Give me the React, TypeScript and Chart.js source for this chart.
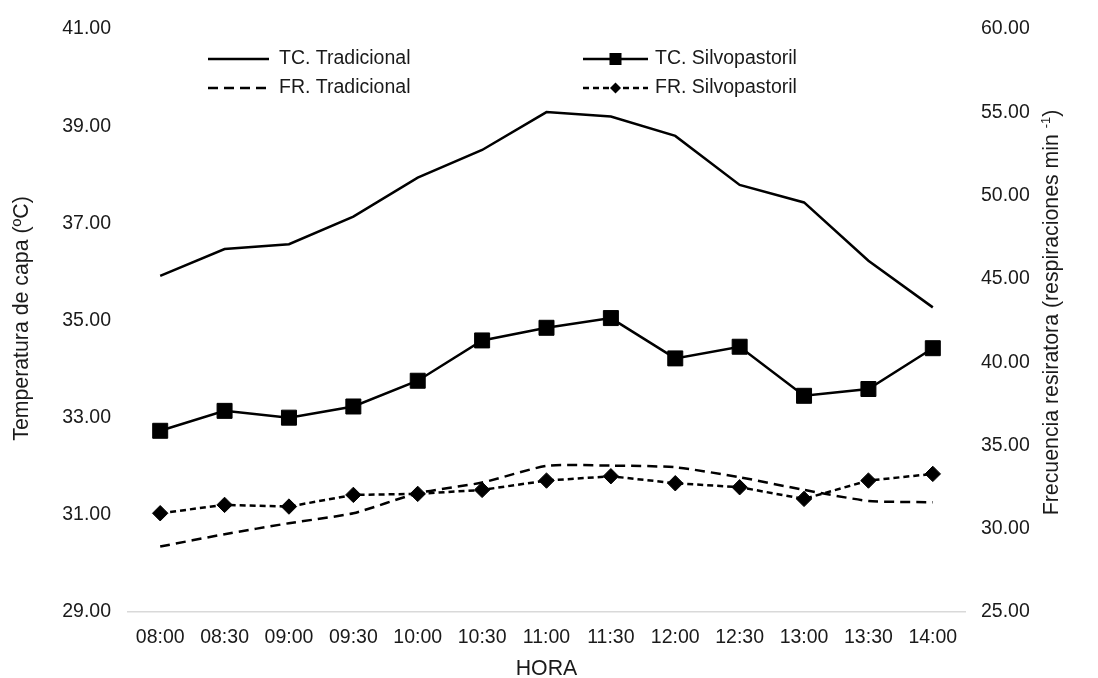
import { useEffect, useRef } from "react";
import { Chart, registerables } from "chart.js";

Chart.register(...registerables);

const hours = ["08:00", "08:30", "09:00", "09:30", "10:00", "10:30", "11:00", "11:30", "12:00", "12:30", "13:00", "13:30", "14:00"];
const tcTradicional = [35.92, 36.47, 36.57, 37.14, 37.94, 38.51, 39.29, 39.2, 38.8, 37.79, 37.43, 36.23, 35.27];
const tcSilvopastoril = [32.73, 33.14, 33.0, 33.23, 33.76, 34.59, 34.85, 35.05, 34.22, 34.46, 33.45, 33.59, 34.43];
const frTradicional = [28.93, 29.67, 30.33, 30.93, 32.13, 32.77, 33.77, 33.79, 33.69, 33.09, 32.33, 31.67, 31.59];
const frSilvopastoril = [30.93, 31.43, 31.33, 32.03, 32.09, 32.33, 32.89, 33.15, 32.73, 32.49, 31.79, 32.89, 33.29];

const leftMin = 29;
const leftMax = 41;
const leftStep = 2;
const rightMin = 25;
const rightMax = 60;
const rightStep = 5;

const legendLabels = ["TC. Tradicional", "TC. Silvopastoril", "FR. Tradicional", "FR. Silvopastoril"];
const leftTitle = "Temperatura de capa (ºC)";
const rightTitleMain = "Frecuencia resiratora (respiraciones min ";
const rightTitleSup = "-1";
const rightTitleEnd = ")";
const xTitle = "HORA";

const FONT = "'Liberation Sans', Arial, sans-serif";
const FS = 19.5;
const TFS = 21.3;
const TEXT = "#1a1a1a";

const overlay = {
  id: "overlay",
  afterDraw(chart: any) {
    const { ctx, chartArea, width, height } = chart;
    const midY = (chartArea.top + chartArea.bottom) / 2;
    ctx.save();
    ctx.fillStyle = TEXT;
    ctx.font = `${TFS}px ${FONT}`;
    ctx.textBaseline = "middle";

    // left title
    ctx.save();
    ctx.translate(22, midY - 2);
    ctx.rotate(-Math.PI / 2);
    ctx.textAlign = "center";
    ctx.fillText(leftTitle, 0, 0);
    ctx.restore();

    // right title with superscript
    ctx.save();
    ctx.translate(width - 46, midY - 8);
    ctx.rotate(-Math.PI / 2);
    ctx.textAlign = "left";
    ctx.font = `${TFS}px ${FONT}`;
    const w1 = ctx.measureText(rightTitleMain).width;
    const w3 = ctx.measureText(rightTitleEnd).width;
    ctx.font = `${TFS * 0.6}px ${FONT}`;
    const w2 = ctx.measureText(rightTitleSup).width;
    const total = w1 + w2 + w3;
    const x0 = -total / 2;
    ctx.font = `${TFS}px ${FONT}`;
    ctx.fillText(rightTitleMain, x0, 0);
    ctx.font = `${TFS * 0.6}px ${FONT}`;
    ctx.fillText(rightTitleSup, x0 + w1, -6);
    ctx.font = `${TFS}px ${FONT}`;
    ctx.fillText(rightTitleEnd, x0 + w1 + w2, 0);
    ctx.restore();

    // x title
    ctx.textAlign = "center";
    ctx.fillText(xTitle, (chartArea.left + chartArea.right) / 2, height - 9);

    // legend
    const L = chartArea.left;
    const T = chartArea.top;
    const cols = [
      { x1: L + 80, x2: L + 141, tx: L + 151 },
      { x1: L + 455, x2: L + 520, tx: L + 527 },
    ];
    const rows = [T + 30, T + 59];
    const items = [
      { col: 0, row: 0, dash: [] as number[], marker: "" },
      { col: 1, row: 0, dash: [] as number[], marker: "square" },
      { col: 0, row: 1, dash: [10, 6], marker: "" },
      { col: 1, row: 1, dash: [6, 4], marker: "diamond" },
    ];
    items.forEach((it, i) => {
      const c = cols[it.col];
      const y = rows[it.row];
      ctx.save();
      ctx.strokeStyle = "#000";
      ctx.lineWidth = 2.5;
      ctx.setLineDash(it.dash);
      ctx.beginPath();
      ctx.moveTo(c.x1, y);
      ctx.lineTo(c.x2, y);
      ctx.stroke();
      ctx.setLineDash([]);
      ctx.fillStyle = "#000";
      const cx = (c.x1 + c.x2) / 2;
      if (it.marker === "square") {
        ctx.fillRect(cx - 6, y - 6, 12, 12);
      } else if (it.marker === "diamond") {
        ctx.beginPath();
        ctx.moveTo(cx - 5.5, y);
        ctx.lineTo(cx, y - 5.5);
        ctx.lineTo(cx + 5.5, y);
        ctx.lineTo(cx, y + 5.5);
        ctx.closePath();
        ctx.fill();
      }
      ctx.restore();
      ctx.fillStyle = TEXT;
      ctx.font = `${FS}px ${FONT}`;
      ctx.textAlign = "left";
      ctx.textBaseline = "middle";
      ctx.fillText(legendLabels[i], c.tx, y);
    });
    ctx.restore();
  },
};

export default function App() {
  const ref = useRef<HTMLCanvasElement | null>(null);
  useEffect(() => {
    if (!ref.current) return;
    const chart = new Chart(ref.current, {
      type: "line",
      data: {
        labels: hours,
        datasets: [
          {
            label: legendLabels[0],
            data: tcTradicional,
            yAxisID: "y",
            borderColor: "#000",
            borderWidth: 2.5,
            pointRadius: 0,
            tension: 0,
          },
          {
            label: legendLabels[1],
            data: tcSilvopastoril,
            yAxisID: "y",
            borderColor: "#000",
            backgroundColor: "#000",
            borderWidth: 2.5,
            pointStyle: "rect",
            pointRadius: 10.6,
            pointBorderWidth: 1,
            tension: 0,
          },
          {
            label: legendLabels[2],
            data: frTradicional,
            yAxisID: "y1",
            borderColor: "#000",
            borderWidth: 2.5,
            borderDash: [10, 6],
            pointRadius: 0,
            tension: 0.2,
          },
          {
            label: legendLabels[3],
            data: frSilvopastoril,
            yAxisID: "y1",
            borderColor: "#000",
            backgroundColor: "#000",
            borderWidth: 2.5,
            borderDash: [6, 4],
            pointStyle: "rectRot",
            pointRadius: 7.7,
            pointBorderWidth: 1,
            tension: 0,
          },
        ],
      },
      options: {
        responsive: false,
        animation: false,
        layout: { padding: { top: 29, left: 0, right: 0, bottom: 0 } },
        plugins: { legend: { display: false }, tooltip: { enabled: false } },
        scales: {
          x: {
            offset: true,
            grid: { display: false, drawTicks: false, offset: true },
            border: { display: true, color: "#d9d9d9", width: 1.5 },
            ticks: {
              color: TEXT,
              font: { family: FONT, size: FS },
              padding: 14,
              maxRotation: 0,
              autoSkip: false,
            },
            afterFit: (s: any) => {
              s.height = 66;
            },
          },
          y: {
            position: "left",
            min: leftMin,
            max: leftMax,
            grid: { display: false, drawTicks: false },
            border: { display: false },
            ticks: {
              stepSize: leftStep,
              color: TEXT,
              font: { family: FONT, size: FS },
              padding: 17,
              callback: (v: any) => Number(v).toFixed(2),
            },
            afterFit: (s: any) => {
              s.width = 128;
            },
          },
          y1: {
            position: "right",
            min: rightMin,
            max: rightMax,
            grid: { display: false, drawTicks: false },
            border: { display: false },
            ticks: {
              stepSize: rightStep,
              color: TEXT,
              font: { family: FONT, size: FS },
              padding: 16,
              callback: (v: any) => Number(v).toFixed(2),
            },
            afterFit: (s: any) => {
              s.width = 133;
            },
          },
        },
      },
      plugins: [overlay],
    });
    return () => chart.destroy();
  }, []);
  return (
    <div style={{ position: "fixed", left: 0, top: 0, width: 1098, height: 678, background: "#fff" }}>
      <canvas ref={ref} width={1098} height={678} style={{ display: "block" }} />
    </div>
  );
}
